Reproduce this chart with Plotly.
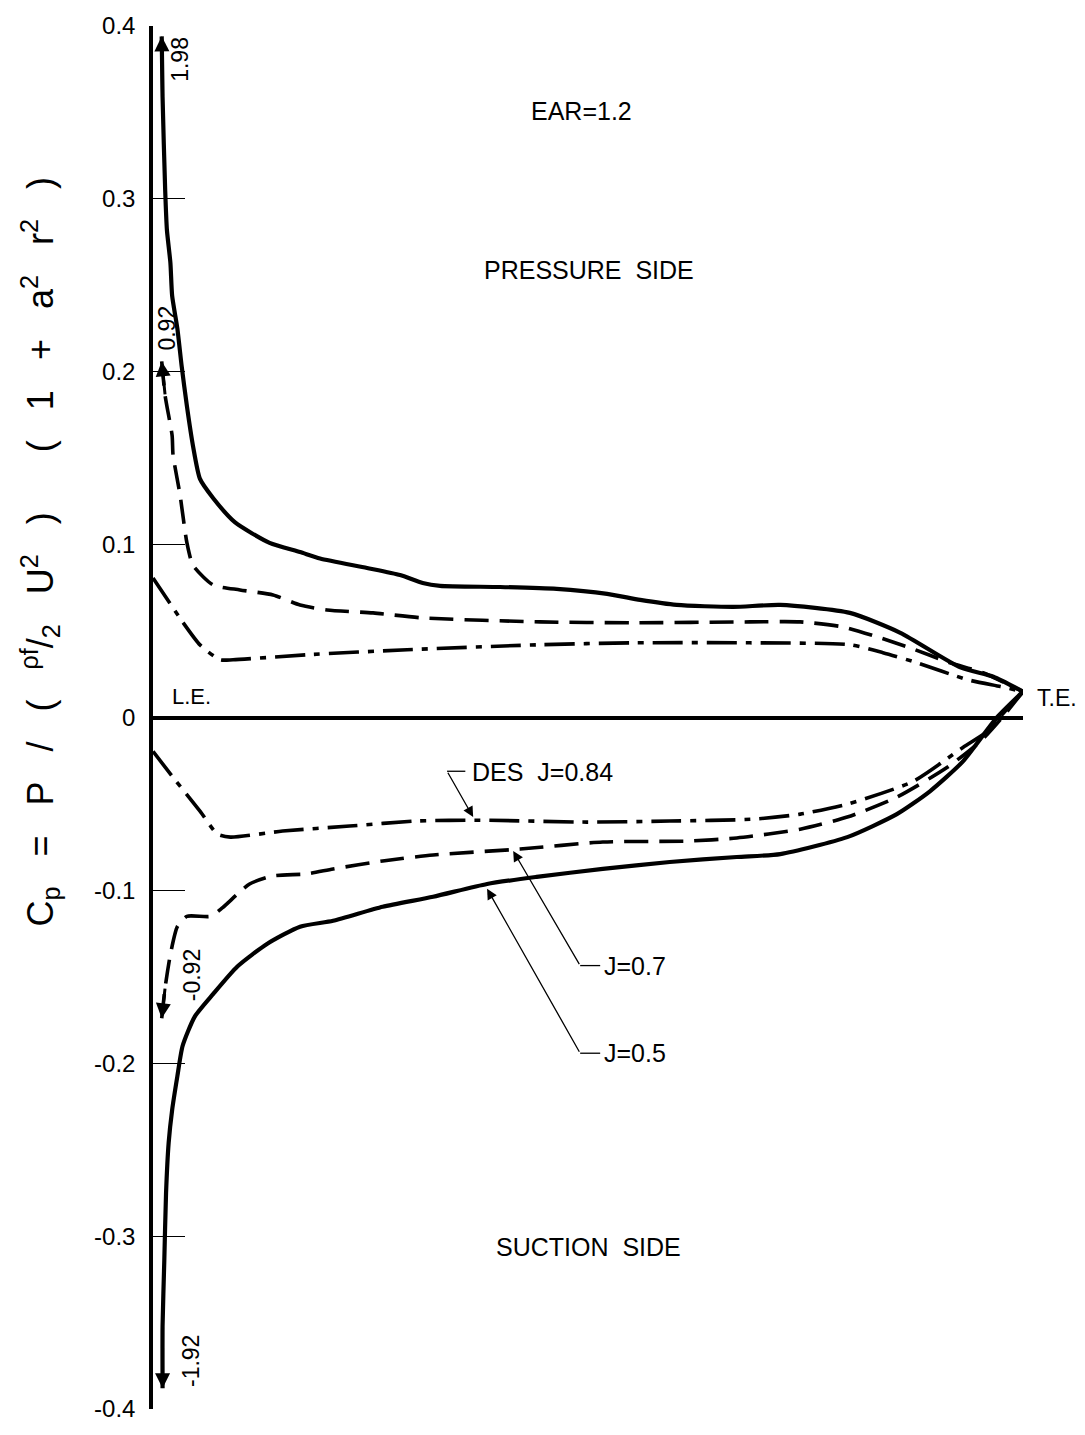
import plotly.graph_objects as go

# ---------------- data (chord fraction from L.E., pressure coefficient) ----------------
chord_j05_p = [0.010, 0.011, 0.014, 0.016, 0.020, 0.022, 0.028, 0.033, 0.039, 0.046, 0.054, 0.069,
               0.094, 0.134, 0.169, 0.192, 0.246, 0.284, 0.310, 0.330, 0.399, 0.464, 0.522, 0.560,
               0.602, 0.667, 0.721, 0.801, 0.859, 0.928, 0.966, 1.000]
cp_j05_p = [0.394, 0.359, 0.305, 0.282, 0.263, 0.244, 0.225, 0.203, 0.180, 0.157, 0.138, 0.127,
            0.113, 0.101, 0.0957, 0.092, 0.0865, 0.0824, 0.0778, 0.0761, 0.0755, 0.0744, 0.0715, 0.068,
            0.0651, 0.064, 0.0651, 0.0605, 0.049, 0.029, 0.0236, 0.015]

chord_j07_p = [0.010, 0.014, 0.022, 0.023, 0.031, 0.039, 0.046, 0.069, 0.100, 0.138, 0.169, 0.200,
               0.253, 0.310, 0.445, 0.552, 0.686, 0.744, 0.793, 0.832, 0.870, 0.916, 0.954, 1.000]
cp_j07_p = [0.206, 0.186, 0.163, 0.152, 0.129, 0.101, 0.088, 0.0767, 0.0738, 0.0709, 0.0651, 0.0622,
            0.0605, 0.0576, 0.0553, 0.0548, 0.0553, 0.0553, 0.0524, 0.0467, 0.0403, 0.0317, 0.0259, 0.015]

chord_des_p = [0.000, 0.034, 0.054, 0.077, 0.092, 0.177, 0.292, 0.445, 0.552, 0.686, 0.801, 0.839,
               0.878, 0.936, 0.974, 1.000]
cp_des_p = [0.0807, 0.0553, 0.042, 0.0334, 0.0334, 0.0363, 0.0392, 0.0421, 0.0432, 0.0432, 0.0421, 0.0375,
            0.0317, 0.0219, 0.0179, 0.015]

chord_des_s = [0.000, 0.023, 0.054, 0.074, 0.089, 0.149, 0.226, 0.303, 0.376, 0.499, 0.594, 0.690,
               0.744, 0.798, 0.874, 0.931, 0.959, 0.974, 1.000]
cp_des_s = [-0.0196, -0.0346, -0.0542, -0.0674, -0.0692, -0.0657, -0.0628, -0.0599, -0.0594, -0.0605,
            -0.0599, -0.0588, -0.0559, -0.0501, -0.0369, -0.0173, -0.0081, 0.0006, 0.015]

chord_j07_s = [0.010, 0.014, 0.020, 0.028, 0.039, 0.066, 0.080, 0.111, 0.138, 0.177, 0.207, 0.264,
               0.322, 0.422, 0.517, 0.614, 0.671, 0.744, 0.798, 0.855, 0.913, 0.951, 0.977, 1.000]
cp_j07_s = [-0.174, -0.156, -0.137, -0.121, -0.115, -0.115, -0.110, -0.0963, -0.0916, -0.0905, -0.0876,
            -0.083, -0.0795, -0.0761, -0.072, -0.0715, -0.0697, -0.0646, -0.0576, -0.0461, -0.0288,
            -0.0138, 0.0006, 0.015]

chord_j05_s = [0.011, 0.011, 0.013, 0.015, 0.018, 0.022, 0.028, 0.034, 0.048, 0.069, 0.097, 0.131,
               0.169, 0.207, 0.264, 0.322, 0.384, 0.441, 0.517, 0.594, 0.671, 0.721, 0.798, 0.855,
               0.893, 0.931, 0.970, 1.000]
cp_j05_s = [-0.388, -0.352, -0.314, -0.275, -0.246, -0.227, -0.2075, -0.190, -0.173, -0.160, -0.144,
            -0.131, -0.121, -0.1176, -0.1095, -0.1037, -0.0963, -0.0922, -0.0876, -0.0836, -0.0807,
            -0.079, -0.0692, -0.0559, -0.0427, -0.0254, 0.0, 0.015]

tick_vals = [0.4, 0.3, 0.2, 0.1, 0.0, -0.1, -0.2, -0.3, -0.4]
tick_text = ["0.4", "0.3", "0.2", "0.1", "0", "-0.1", "-0.2", "-0.3", "-0.4"]

FONT = "Liberation Sans, Arial, sans-serif"
BLACK = "#000000"

fig = go.Figure()

solid = dict(color=BLACK, width=4.2)
dashed = dict(color=BLACK, width=3.6, dash="24px,11px")
dashdot = dict(color=BLACK, width=3.6, dash="30px,9px,6px,9px")

for xs, ys, ln in [
    (chord_j05_p, cp_j05_p, solid),
    (chord_j07_p, cp_j07_p, dashed),
    (chord_des_p, cp_des_p, dashdot),
    (chord_des_s, cp_des_s, dashdot),
    (chord_j07_s, cp_j07_s, dashed),
    (chord_j05_s, cp_j05_s, solid),
]:
    fig.add_trace(go.Scatter(x=xs, y=ys, mode="lines", line=dict(shape="spline", smoothing=0.6, **ln),
                             showlegend=False, hoverinfo="skip", cliponaxis=False))

annotations = []


def text(x, y, s, size=20, angle=0, xanchor="center", xref="x"):
    annotations.append(dict(x=x, y=y, xref=xref, yref="y", text=s, showarrow=False, textangle=angle,
                            xanchor=xanchor, yanchor="middle",
                            font=dict(family=FONT, size=size, color=BLACK)))


def arrow(x, y, ax, ay, width=2.5, size=1.0):
    annotations.append(dict(x=x, y=y, ax=ax, ay=ay, xref="x", yref="y", axref="x", ayref="y",
                            text="", showarrow=True, arrowhead=2, arrowsize=size, arrowwidth=width,
                            arrowcolor=BLACK))


# off-scale arrows at the leading edge
arrow(chord_j05_p[0], cp_j05_p[0], chord_j05_p[1], cp_j05_p[1], width=3)
arrow(chord_j07_p[0], cp_j07_p[0], chord_j07_p[1], cp_j07_p[1], width=3)
arrow(chord_j07_s[0], cp_j07_s[0], chord_j07_s[1], cp_j07_s[1], width=3)
arrow(chord_j05_s[0], cp_j05_s[0], chord_j05_s[1], cp_j05_s[1], width=3)

text(0.031, 0.381, "1.98", size=23, angle=-90)
text(0.015, 0.225, "0.92", size=23, angle=-90)
text(0.045, -0.149, "-0.92", size=23, angle=-90)
text(0.043, -0.372, "-1.92", size=23, angle=-90)

text(0.493, 0.351, "EAR=1.2", size=25)
text(0.501, 0.259, "PRESSURE  SIDE", size=25)
text(0.501, -0.306, "SUCTION  SIDE", size=25)
text(0.020, 0.0121, "L.E.", size=22, xanchor="left")
text(1.014, 0.0115, "T.E.", size=23, xanchor="left", xref="paper")

# callouts
text(0.364, -0.0317, "DES  J=0.84", size=25, xanchor="left")
text(0.516, -0.1435, "J=0.7", size=25, xanchor="left")
text(0.516, -0.1942, "J=0.5", size=25, xanchor="left")
arrow(0.368, -0.0576, 0.338, -0.0311, width=1.3, size=1.6)
arrow(0.414, -0.0772, 0.491, -0.1435, width=1.3, size=1.6)
arrow(0.384, -0.0991, 0.491, -0.1942, width=1.3, size=1.6)

shapes = [
    dict(type="line", xref="x", yref="y", x0=0.338, y0=-0.0311, x1=0.359, y1=-0.0311,
         line=dict(color=BLACK, width=1.3)),
    dict(type="line", xref="x", yref="y", x0=0.491, y0=-0.1435, x1=0.514, y1=-0.1435,
         line=dict(color=BLACK, width=1.3)),
    dict(type="line", xref="x", yref="y", x0=0.491, y0=-0.1942, x1=0.514, y1=-0.1942,
         line=dict(color=BLACK, width=1.3)),
]

# y-axis title
sp = "&nbsp;&nbsp;&nbsp;"
title = ("C<sub>p</sub>" + sp + "=" + sp + "P" + sp + "/" + sp + "(" + sp
         + "<sup>ρf</sup>/<sub>2</sub>" + sp + "U<sup>2</sup>" + sp + ")" + sp + sp
         + "(" + sp + "1" + sp + "+" + sp + "a<sup>2</sup>" + sp + "r<sup>2</sup>" + sp + ")")
annotations.append(dict(
    x=-0.162, y=0.0957, xref="paper", yref="y", showarrow=False, textangle=-90,
    text=title, font=dict(family=FONT, size=36, color=BLACK)))

fig.update_layout(
    width=1085, height=1435,
    margin=dict(l=153, r=62, t=21, b=26),
    paper_bgcolor="white", plot_bgcolor="white",
    annotations=annotations, shapes=shapes,
    xaxis=dict(range=[0, 1], visible=False, showgrid=False, zeroline=False),
    yaxis=dict(range=[-0.4, 0.4], tickvals=tick_vals, ticktext=tick_text,
               showgrid=False, zeroline=True, zerolinecolor=BLACK, zerolinewidth=4,
               showline=True, linecolor=BLACK, linewidth=3.5,
               ticks="inside", ticklen=32, tickwidth=1.3, tickcolor=BLACK,
               ticklabelstandoff=9,
               tickfont=dict(family=FONT, size=24, color=BLACK)),
)

fig.write_html("out.html")
